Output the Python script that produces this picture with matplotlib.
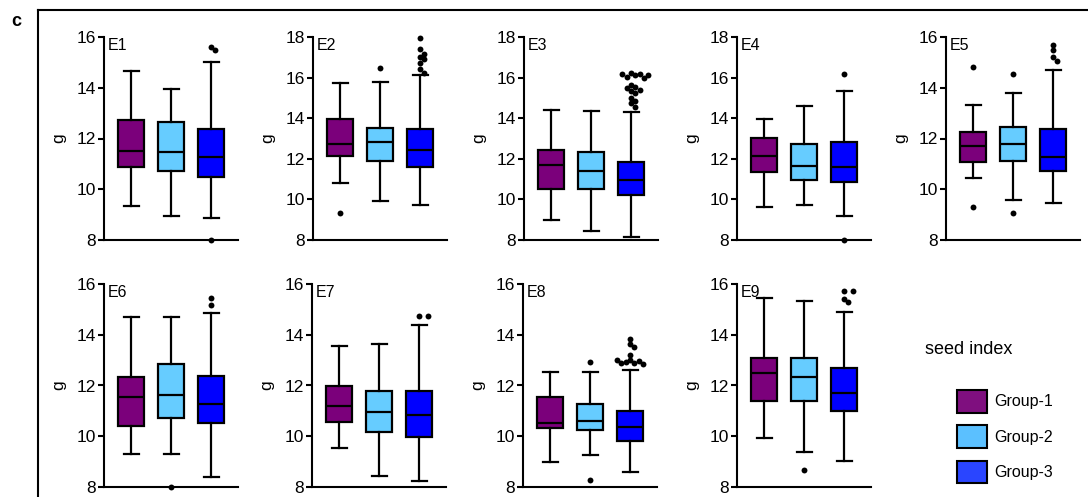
import matplotlib
matplotlib.use('Agg')
import matplotlib.pyplot as plt
from matplotlib.lines import Line2D
from matplotlib.patches import Patch

plt.rcParams['font.family'] = ['Liberation Sans', 'DejaVu Sans']

# data
panels = ['E1', 'E2', 'E3', 'E4', 'E5', 'E6', 'E7', 'E8', 'E9']
ymax = [16, 18, 18, 18, 16, 16, 16, 16, 16]
groups = ['Group-1', 'Group-2', 'Group-3']

whi = [[14.66, 13.95, 15.03], [15.72, 15.77, 16.15], [14.41, 14.36, 14.30],
       [13.95, 14.61, 15.32], [13.32, 13.80, 14.68], [14.71, 14.69, 14.86],
       [13.57, 13.64, 14.39], [12.53, 12.52, 12.61], [15.43, 15.32, 14.90]]
q3 = [[12.74, 12.64, 12.36], [13.97, 13.50, 13.45], [12.43, 12.35, 11.85],
      [13.01, 12.74, 12.84], [12.26, 12.46, 12.36], [12.34, 12.85, 12.38],
      [11.97, 11.80, 11.80], [11.55, 11.26, 10.98], [13.10, 13.10, 12.70]]
med = [[11.50, 11.45, 11.29], [12.73, 12.81, 12.43], [11.69, 11.42, 10.94],
       [12.13, 11.65, 11.60], [11.70, 11.80, 11.28], [11.55, 11.63, 11.26],
       [11.19, 10.97, 10.83], [10.52, 10.61, 10.36], [12.50, 12.32, 11.72]]
q1 = [[10.89, 10.71, 10.50], [12.12, 11.87, 11.62], [10.50, 10.50, 10.20],
      [11.34, 10.94, 10.84], [11.09, 11.13, 10.72], [10.41, 10.72, 10.53],
      [10.55, 10.18, 9.97], [10.32, 10.25, 9.82], [11.38, 11.40, 11.00]]
wlo = [[9.33, 8.96, 8.88], [10.81, 9.92, 9.74], [9.00, 8.45, 8.17],
       [9.64, 9.71, 9.20], [10.45, 9.57, 9.44], [9.32, 9.32, 8.39],
       [9.53, 8.45, 8.22], [8.99, 9.25, 8.60], [9.93, 9.39, 9.03]]
fliers = [
    [[], [], [15.60, 15.50, 8.0]],
    [[9.32], [16.48], [17.97, 17.39, 17.17, 17.02, 16.94, 16.73, 16.40, 16.23]],
    [[], [], [16.23, 16.20, 16.18, 16.15, 16.12, 16.05, 15.98, 15.62, 15.52,
              15.49, 15.40, 15.32, 15.24, 14.99, 14.85, 14.74, 14.53]],
    [[], [], [16.18, 8.0]],
    [[14.82, 9.32], [14.53, 9.05], [15.70, 15.50, 15.22, 15.05]],
    [[], [8.0], [15.45, 15.17]],
    [[], [], [14.72, 14.72]],
    [[], [12.93, 8.26], [13.84, 13.63, 13.53, 13.20, 13.00, 12.96, 12.93,
                         12.90, 12.87, 12.83, 13.00]],
    [[], [8.67], [15.74, 15.71, 15.40, 15.29]],
]

box_colors = ['#7B007B', '#66CCFF', '#0000FF']
legend_colors = ['#7F0F7F', '#5BC0FF', '#2A45FF']


def swarm_x(ax, xc, vals, d=4.8):
    # spread overlapping dots sideways (pixel distance d)
    placed = []
    out = []
    for v in vals:
        x0, y0 = ax.transData.transform((xc, v))
        for k in [0, 1, -1, 2, -2, 3, -3, 4, -4, 5, -5]:
            px = x0 + k * d * 0.9
            if all((px - a) ** 2 + (y0 - b) ** 2 >= (d * 0.95) ** 2 for a, b in placed):
                break
        placed.append((px, y0))
        out.append(ax.transData.inverted().transform((px, y0))[0])
    return out


W, H = 1088, 497
fig = plt.figure(figsize=(W / 100, H / 100), dpi=100)

lefts = [104, 313, 524, 737, 946, 104, 312, 523, 737]
tops = [37] * 5 + [284] * 4
aw, ah = 134, 203

for i, name in enumerate(panels):
    ax = fig.add_axes([lefts[i] / W, 1 - (tops[i] + ah) / H, aw / W, ah / H])
    stats = []
    for g in range(3):
        stats.append(dict(med=med[i][g], q1=q1[i][g], q3=q3[i][g],
                          whislo=wlo[i][g], whishi=whi[i][g], fliers=[]))
    bp = ax.bxp(stats, positions=[1, 2, 3], widths=0.67, patch_artist=True,
                showfliers=False, capwidths=0.375,
                boxprops=dict(linewidth=1.6, edgecolor='black'),
                whiskerprops=dict(linewidth=1.6, color='black'),
                capprops=dict(linewidth=1.6, color='black'),
                medianprops=dict(linewidth=1.6, color='black'))
    for patch, c in zip(bp['boxes'], box_colors):
        patch.set_facecolor(c)
    ax.set_xlim(0.325, 3.675)
    ax.set_ylim(8, ymax[i])
    ax.set_yticks(range(8, ymax[i] + 1, 2))
    for g in range(3):
        vals = fliers[i][g]
        if vals:
            xs = swarm_x(ax, g + 1, vals)
            ax.scatter(xs, vals, s=18, color='black', zorder=5, clip_on=False,
                       linewidths=0)
    for s in ['top', 'right']:
        ax.spines[s].set_visible(False)
    for s in ['left', 'bottom']:
        ax.spines[s].set_linewidth(1.5)
    ax.tick_params(axis='y', length=4, width=1.5, pad=1.5, labelsize=12.5)
    ax.tick_params(axis='x', length=0, labelbottom=False)
    ax.set_ylabel('g', fontsize=12.5)
    ax.yaxis.set_label_coords(-0.28, 0.5)
    ax.text(0.025, 0.995, name, transform=ax.transAxes, ha='left', va='top',
            fontsize=11.5)

# frame around the panel
lw = 1.5
fig.add_artist(Line2D([37.5 / W, 37.5 / W], [0, 1 - 10 / H], color='black', lw=lw))
fig.add_artist(Line2D([37.5 / W, 1.0], [1 - 10 / H, 1 - 10 / H], color='black', lw=lw))
fig.text(16 / W, 1 - 21 / H, 'c', fontsize=13, fontweight='bold', ha='center', va='center')

# legend
fig.text(925 / W, 1 - 350 / H, 'seed index', fontsize=13, ha='left', va='center')
handles = [Patch(facecolor=c, edgecolor='black', linewidth=1.5) for c in legend_colors]
fig.legend(handles, groups, loc='upper left', bbox_to_anchor=(957 / W, 1 - 390 / H),
           frameon=False, fontsize=11.5, borderpad=0, borderaxespad=0,
           handlelength=1.9, handleheight=1.8, labelspacing=0.8, handletextpad=0.45)

fig.savefig('out.png', dpi=100)
